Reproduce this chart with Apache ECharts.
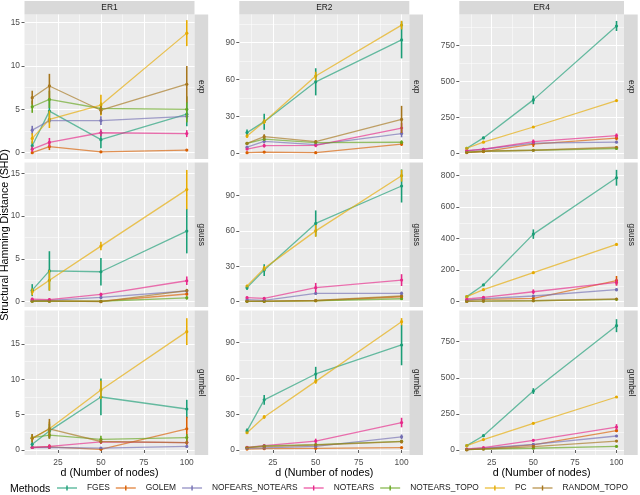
<!DOCTYPE html>
<html>
<head>
<meta charset="utf-8">
<script src="https://cdn.jsdelivr.net/npm/echarts@6/dist/echarts.min.js"></script>
<style>
html, body { margin: 0; padding: 0; background: #fff; }
#chart { width: 640px; height: 495px; }
</style>
</head>
<body>
<div id="chart"></div>
<script>
var methods = ['FGES', 'GOLEM', 'NOFEARS_NOTEARS', 'NOTEARS', 'NOTEARS_TOPO', 'PC', 'RANDOM_TOPO'];
var methodColors = ['#1B9E77', '#D95F02', '#7570B3', '#E7298A', '#66A61E', '#E6AB02', '#A6761D'];
var nodes = [10, 20, 50, 100];
var graphTypes = ['ER1', 'ER2', 'ER4'];
var noiseTypes = ['exp', 'gauss', 'gumbel'];
var xTicks = [25, 50, 75, 100];
var xMinorTicks = [12.5, 37.5, 62.5, 87.5];

// y tick labels, one list per panel (row by row)
var yTicksER1 = [0, 5, 10, 15];
var yTicksER2 = [0, 30, 60, 90];
var yTicksER4exp = [0, 250, 500, 750];
var yTicksER4gauss = [0, 200, 400, 600, 800];
var yTicksER4gumbel = [0, 250, 500, 750];

// mean SHD, rows follow the order of methods, columns follow nodes
var shdER1exp = [
    [0.8, 4.8, 1.5, 4.45],
    [0.0, 0.7, 0.1, 0.3],
    [2.6, 3.7, 3.7, 4.2],
    [0.4, 1.2, 2.3, 2.2],
    [5.3, 6.15, 5.1, 5.0],
    [1.65, 3.85, 5.5, 13.8],
    [6.35, 7.7, 4.9, 7.9]
];
var errER1exp = [
    [0.5, 1.2, 1.0, 1.4],
    [0.1, 0.4, 0.1, 0.1],
    [0.5, 0.3, 0.5, 0.3],
    [0.3, 0.5, 0.4, 0.4],
    [0.7, 1.0, 0.7, 1.5],
    [0.6, 1.0, 1.2, 1.5],
    [0.8, 1.4, 0.5, 2.1]
];
var shdER2exp = [
    [16.8, 25.7, 58, 92],
    [0.5, 1, 0.5, 7.5],
    [5, 9.7, 7, 16],
    [3.5, 6.2, 6.5, 20.5],
    [8, 11.5, 8.7, 9],
    [14, 25.7, 62.7, 104],
    [8, 13.5, 9.5, 27.5]
];
var errER2exp = [
    [2.5, 6.5, 11, 15],
    [0.3, 0.5, 0.3, 1.5],
    [1, 1.5, 1, 3],
    [1, 1.5, 1.5, 4],
    [1, 1.5, 1, 1.5],
    [1.5, 2, 3.5, 3.5],
    [1, 2, 1, 11]
];
var shdER4exp = [
    [35, 107, 372, 887],
    [5, 12, 63, 105],
    [16, 28, 70, 77],
    [19, 28, 81, 123],
    [7, 14, 21, 33],
    [35, 77, 183, 367],
    [7, 14, 21, 42]
];
var errER4exp = [
    [3, 8, 30, 35],
    [2, 4, 20, 15],
    [2, 3, 5, 6],
    [3, 4, 15, 15],
    [1, 2, 3, 5],
    [2, 3, 4, 5],
    [1, 2, 3, 5]
];
var shdER1gauss = [
    [1.35, 3.6, 3.5, 8.25],
    [0.05, 0.05, 0.05, 0.9],
    [0.15, 0.15, 0.5, 1.25],
    [0.3, 0.25, 0.85, 2.45],
    [0.05, 0.05, 0.05, 0.45],
    [1.15, 2.5, 6.5, 13.1],
    [0.1, 0.1, 0.0, 1.3]
];
var errER1gauss = [
    [0.7, 2.3, 1.6, 2.6],
    [0.05, 0.05, 0.05, 0.2],
    [0.1, 0.1, 0.2, 0.2],
    [0.15, 0.15, 0.2, 0.5],
    [0.05, 0.05, 0.05, 0.2],
    [0.4, 1.2, 0.5, 2.3],
    [0.05, 0.05, 0.05, 0.2]
];
var shdER2gauss = [
    [11.9, 26.8, 66.3, 98],
    [0.3, 0.3, 0.8, 4.2],
    [1.7, 1.1, 7, 7],
    [3.4, 2.8, 11.9, 18.3],
    [0.3, 0.3, 0.8, 2.5],
    [13.3, 28.2, 60, 106.7],
    [0.5, 0.5, 1.1, 4.8]
];
var errER2gauss = [
    [2, 5, 11, 14],
    [0.2, 0.2, 0.3, 1],
    [0.5, 0.5, 1, 1.5],
    [1, 1, 4, 5],
    [0.2, 0.2, 0.3, 0.8],
    [1, 2, 5, 5],
    [0.2, 0.2, 0.4, 1]
];
var shdER4gauss = [
    [32, 106, 428, 785],
    [8, 15, 21, 133],
    [10, 19, 36, 76],
    [17, 27, 63, 122],
    [2, 4, 6, 15],
    [32, 76, 184, 363],
    [2, 4, 6, 17]
];
var errER4gauss = [
    [3, 6, 30, 50],
    [2, 3, 5, 30],
    [2, 3, 5, 10],
    [3, 5, 15, 20],
    [1, 1, 2, 3],
    [2, 3, 4, 5],
    [1, 1, 2, 3]
];
var shdER1gumbel = [
    [0.8, 2.7, 7.5, 5.8],
    [0.35, 0.45, 0.1, 3.0],
    [0.35, 0.35, 0.25, 0.5],
    [0.35, 0.5, 1.15, 1.05],
    [1.75, 2.1, 1.5, 1.75],
    [1.65, 3.0, 8.5, 16.75],
    [1.65, 3.0, 1.2, 1.05]
];
var errER1gumbel = [
    [0.5, 1.0, 2.6, 1.3],
    [0.1, 0.3, 0.1, 1.7],
    [0.1, 0.1, 0.1, 0.2],
    [0.15, 0.3, 0.3, 0.3],
    [0.5, 0.5, 0.5, 0.5],
    [0.5, 1.0, 1.3, 1.9],
    [0.6, 1.4, 0.3, 0.3]
];
var shdER2gumbel = [
    [16, 42, 63.7, 88],
    [0.8, 1.1, 1.4, 2],
    [1.4, 1.7, 3, 11],
    [2.2, 3.6, 7.5, 23],
    [2, 3.4, 4.5, 7.3],
    [14.5, 27.7, 57.5, 107.5],
    [2, 2.8, 4.2, 7]
];
var errER2gumbel = [
    [2, 4, 6, 17],
    [0.3, 0.3, 0.4, 0.5],
    [0.5, 0.5, 1, 2],
    [0.8, 1, 2, 4],
    [0.5, 0.8, 1, 1],
    [1, 1.5, 2, 3],
    [0.5, 0.8, 1, 1.5]
];
var shdER4gumbel = [
    [30, 99, 408, 861],
    [2, 9, 35, 134],
    [5, 12, 39, 97],
    [7, 16, 67, 159],
    [2, 7, 12, 25],
    [30, 72, 185, 367],
    [2, 7, 23, 62]
];
var errER4gumbel = [
    [3, 6, 20, 45],
    [1, 2, 5, 10],
    [1, 2, 4, 8],
    [2, 3, 8, 20],
    [1, 1, 2, 3],
    [2, 3, 4, 5],
    [1, 1, 3, 5]
];

// panel table, row by row
var panels = [
    {mean: shdER1exp, err: errER1exp, ticks: yTicksER1, ymin: -0.73, ymax: 15.95},
    {mean: shdER2exp, err: errER2exp, ticks: yTicksER2, ymin: -4.6, ymax: 112.6},
    {mean: shdER4exp, err: errER4exp, ticks: yTicksER4exp, ymin: -40, ymax: 967},
    {mean: shdER1gauss, err: errER1gauss, ticks: yTicksER1, ymin: -0.62, ymax: 16.27},
    {mean: shdER2gauss, err: errER2gauss, ticks: yTicksER2, ymin: -4.5, ymax: 117.9},
    {mean: shdER4gauss, err: errER4gauss, ticks: yTicksER4gauss, ymin: -33.6, ymax: 881.6},
    {mean: shdER1gumbel, err: errER1gumbel, ticks: yTicksER1, ymin: -0.71, ymax: 19.74},
    {mean: shdER2gumbel, err: errER2gumbel, ticks: yTicksER2, ymin: -4.2, ymax: 116.9},
    {mean: shdER4gumbel, err: errER4gumbel, ticks: yTicksER4gumbel, ymin: -34.6, ymax: 966}
];

var font = '"Liberation Sans", Arial, sans-serif';
var colLeft = [24.5, 239.3, 459.3];
var colWidth = [170, 170, 164.7];
var rowTop = [14.5, 162.5, 310.5];
var rowHeight = 144.5;
var stripSize = 13.7;

function minorOf(ticks, lo, hi) {
    var step = ticks[1] - ticks[0];
    var out = [ticks[0] - step / 2];
    ticks.forEach(function (t) { out.push(t + step / 2); });
    return out.filter(function (v) { return v > lo && v < hi; });
}

function renderErr(params, api) {
    var x = api.value(0);
    var p1 = api.coord([x, api.value(1)]);
    var p2 = api.coord([x, api.value(2)]);
    return {
        type: 'line',
        shape: {x1: p1[0], y1: p1[1], x2: p2[0], y2: p2[1]},
        style: {stroke: api.visual('color'), lineWidth: 1.6}
    };
}

var grids = [], xAxes = [], yAxes = [], series = [], graphics = [];

panels.forEach(function (p, g) {
    var r = Math.floor(g / 3), c = g % 3;
    grids.push({
        left: colLeft[c], top: rowTop[r], width: colWidth[c], height: rowHeight,
        show: true, backgroundColor: '#EBEBEB', borderWidth: 0
    });
    xAxes.push({
        type: 'value', gridIndex: g, min: 5.5, max: 104.5,
        axisLine: {show: false},
        axisTick: {show: r === 2, length: 3, customValues: xTicks, lineStyle: {color: '#333333', width: 0.8}},
        axisLabel: {show: r === 2, customValues: xTicks, color: '#4D4D4D', fontSize: 8.4, margin: 4, fontFamily: font},
        splitLine: {show: true, lineStyle: {color: '#FFFFFF', width: 1.1}}
    });
    xAxes.push({
        type: 'value', gridIndex: g, min: 5.5, max: 104.5, position: 'bottom',
        axisLine: {show: false},
        axisTick: {show: false, customValues: xMinorTicks},
        axisLabel: {show: false},
        splitLine: {show: true, lineStyle: {color: '#FFFFFF', width: 0.5}}
    });
    yAxes.push({
        type: 'value', gridIndex: g, min: p.ymin, max: p.ymax,
        axisLine: {show: false},
        axisTick: {show: true, length: 3, customValues: p.ticks, lineStyle: {color: '#333333', width: 0.8}},
        axisLabel: {customValues: p.ticks, color: '#4D4D4D', fontSize: 8.4, margin: 4.5, fontFamily: font},
        splitLine: {show: true, lineStyle: {color: '#FFFFFF', width: 1.1}}
    });
    yAxes.push({
        type: 'value', gridIndex: g, min: p.ymin, max: p.ymax, position: 'left',
        axisLine: {show: false},
        axisTick: {show: false, customValues: minorOf(p.ticks, p.ymin, p.ymax)},
        axisLabel: {show: false},
        splitLine: {show: true, lineStyle: {color: '#FFFFFF', width: 0.5}}
    });

    methods.forEach(function (m, k) {
        var pts = nodes.map(function (d, i) { return [d, p.mean[k][i]]; });
        var bars = nodes.map(function (d, i) {
            return [d, p.mean[k][i] - p.err[k][i], p.mean[k][i] + p.err[k][i]];
        });
        series.push({
            name: m, type: 'line', xAxisIndex: 2 * g, yAxisIndex: 2 * g,
            data: pts, symbol: 'circle', symbolSize: 3.2, showSymbol: true,
            lineStyle: {color: methodColors[k], width: 1.3, opacity: 0.65},
            itemStyle: {color: methodColors[k]},
            silent: true, z: 2
        });
        series.push({
            name: m, type: 'custom', xAxisIndex: 2 * g, yAxisIndex: 2 * g,
            data: bars, encode: {x: 0, y: [1, 2]}, renderItem: renderErr,
            itemStyle: {color: methodColors[k]}, silent: true, z: 3
        });
    });
});

// facet strips
graphTypes.forEach(function (t, c) {
    graphics.push({
        type: 'rect', shape: {x: colLeft[c], y: 1, width: colWidth[c], height: rowTop[0] - 1},
        style: {fill: '#D9D9D9'}, silent: true
    });
    graphics.push({
        type: 'text', x: colLeft[c] + colWidth[c] / 2, y: 7.8,
        style: {text: t, align: 'center', verticalAlign: 'middle', fontSize: 8.4, fill: '#1A1A1A', fontFamily: font}
    });
    graphics.push({
        type: 'text', x: colLeft[c] + colWidth[c] / 2, y: 473.3,
        style: {text: 'd (Number of nodes)', align: 'center', verticalAlign: 'middle', fontSize: 10.7, fill: '#000000', fontFamily: font}
    });
    noiseTypes.forEach(function (n, r) {
        var sx = colLeft[c] + colWidth[c];
        graphics.push({
            type: 'rect', shape: {x: sx, y: rowTop[r], width: stripSize, height: rowHeight},
            style: {fill: '#D9D9D9'}, silent: true
        });
        graphics.push({
            type: 'text', x: sx + stripSize / 2, y: rowTop[r] + rowHeight / 2, rotation: -Math.PI / 2,
            style: {text: n, align: 'center', verticalAlign: 'middle', fontSize: 8.4, fill: '#1A1A1A', fontFamily: font}
        });
    });
});

graphics.push({
    type: 'text', x: 5.5, y: 235, rotation: Math.PI / 2,
    style: {text: 'Structural Hamming Distance (SHD)', align: 'center', verticalAlign: 'middle', fontSize: 10.7, fill: '#000000', fontFamily: font}
});
graphics.push({
    type: 'text', x: 10, y: 489.5,
    style: {text: 'Methods', align: 'left', verticalAlign: 'middle', fontSize: 10.5, fill: '#000000', fontFamily: font}
});

var chart = echarts.init(document.getElementById('chart'));
chart.setOption({
    animation: false,
    grid: grids,
    xAxis: xAxes,
    yAxis: yAxes,
    series: series,
    graphic: graphics,
    legend: {
        data: methods, left: 57, top: 484, padding: 0, itemWidth: 20, itemHeight: 5, itemGap: 6,
        icon: 'path://M0,4.4h20v1.2h-20z M9.3,2.5h1.4v5h-1.4z',
        textStyle: {fontSize: 8.4, color: '#1A1A1A', fontFamily: font, padding: [0, 0, 0, 5]},
        selectedMode: false
    }
});
</script>
</body>
</html>
